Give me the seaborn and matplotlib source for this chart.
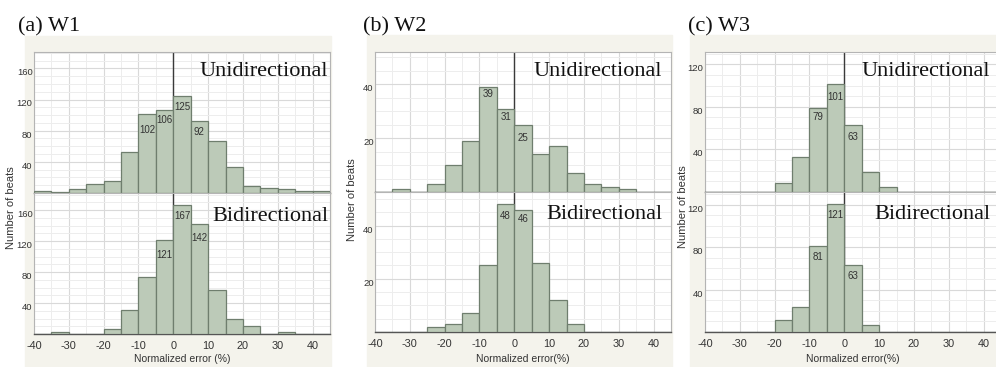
import numpy as np
import pandas as pd
import seaborn as sns
import matplotlib
matplotlib.use("Agg")
import matplotlib.pyplot as plt
from matplotlib.patches import Rectangle
from matplotlib.transforms import ScaledTranslation, blended_transform_factory
from matplotlib.ticker import MultipleLocator

# ---------------- data ----------------
bin_edges = list(range(-40, 50, 5))          # -40 ... 45
bin_centers = [e + 2.5 for e in bin_edges[:-1]]

w1_uni = [2, 1, 5, 12, 15, 52, 102, 106, 125, 92, 67, 34, 9, 6, 5, 3, 2]
w1_bi = [0, 2, 0, 0, 6, 31, 73, 121, 167, 142, 57, 20, 10, 0, 2, 0, 0]
w2_uni = [0, 1, 0, 3, 10, 19, 39, 31, 25, 14, 17, 7, 3, 2, 1, 0, 0]
w2_bi = [0, 0, 0, 2, 3, 7, 25, 48, 46, 26, 12, 3, 0, 0, 0, 0, 0]
w3_uni = [0, 0, 0, 0, 8, 33, 79, 101, 63, 19, 5, 0, 0, 0, 0, 0, 0]
w3_bi = [0, 0, 0, 0, 11, 24, 81, 121, 63, 7, 0, 0, 0, 0, 0, 0, 0]

panel_titles = ["(a) W1", "(b) W2", "(c) W3"]
row_names = ["Unidirectional", "Bidirectional"]
x_labels = ["Normalized error (%)", "Normalized error(%)", "Normalized error(%)"]
y_label = "Number of beats"
x_ticks = [-40, -30, -20, -10, 0, 10, 20, 30, 40]
y_ticks = [[40, 80, 120, 160], [20, 40], [40, 80, 120]]
# indices of bars whose counts are written on them
labelled = [([6, 7, 8, 9], [7, 8, 9]), ([6, 7, 8], [7, 8]), ([6, 7, 8], [6, 7, 8])]

counts = [(w1_uni, w1_bi), (w2_uni, w2_bi), (w3_uni, w3_bi)]

# ---------------- style ----------------
sns.set_theme(style="white")
plt.rcParams["font.family"] = ["Liberation Sans", "DejaVu Sans"]
plt.rcParams["axes.unicode_minus"] = False

W, H = 996, 367
fig = plt.figure(figsize=(W / 100, H / 100), dpi=100)
fig.patch.set_facecolor("white")

BEIGE = "#f4f3ec"
FILL = "#bccab8"
EDGE = "#6f7e6e"
TXT = "#333333"

# layout in pixels
lefts = [34, 375, 705]
axw = 296
tops = [(52, 193, 334), (52, 192, 332), (52, 192, 332)]
ylims = [(181, 182), (52, 52.6), (131.5, 132)]
ygrid_minor = [10, 5, 10]
bg_boxes = [(25, 36, 306), (367, 35, 305), (690, 35, 306)]
title_x = [18, 363, 688]
ylabel_pos = [(11, 208), (352, 200), (683, 207)]
name_x = [(44.5, 44.5), (42.5, 42.5), (41.9, 41.9)]
name_y = [(0.83, 0.80), (0.83, 0.81), (0.83, 0.81)]
lab_off = [([-16, -10, -11, -11], [-15, -11, -14]),
           ([-7, -8, -13], [-12, -9]),
           ([-9, -13, -12], [-11, -11, -11])]


def add_axes_px(l, t, w, h):
    return fig.add_axes([l / W, 1 - (t + h) / H, w / W, h / H])


for l, t, w in bg_boxes:
    fig.patches.append(Rectangle((l / W, 0), w / W, (H - t) / H,
                                 transform=fig.transFigure, color=BEIGE, zorder=-10))

for p in range(3):
    top, mid, bot = tops[p]
    for r in range(2):
        if r == 0:
            ax = add_axes_px(lefts[p], top, axw, mid - top)
        else:
            ax = add_axes_px(lefts[p], mid, axw, bot - mid)
        ax.set_facecolor("white")
        vals = counts[p][r]
        df = pd.DataFrame({"err": bin_centers, "n": vals})
        sns.histplot(data=df, x="err", weights="n", bins=bin_edges, ax=ax,
                     color=FILL, edgecolor=EDGE, linewidth=0.9, alpha=1,
                     zorder=3)
        ax.set_xlim(-40, 45)
        ax.set_ylim(0, ylims[p][r])
        ax.axvline(0, color="#3a3a3a", lw=1.0, zorder=2)

        ax.xaxis.set_major_locator(MultipleLocator(10))
        ax.xaxis.set_minor_locator(MultipleLocator(5))
        ax.set_yticks(y_ticks[p])
        ax.yaxis.set_minor_locator(MultipleLocator(ygrid_minor[p]))
        ax.grid(True, which="major", color="#d9d9d9", lw=0.8, zorder=0)
        ax.grid(True, which="minor", color="#ededed", lw=0.7, zorder=0)
        ax.set_axisbelow(True)

        for s in ["top", "right", "left"]:
            ax.spines[s].set_color("#b4b4b4")
            ax.spines[s].set_linewidth(0.8)
        ax.spines["bottom"].set_color("#555555")
        ax.spines["bottom"].set_linewidth(1.0)

        ax.tick_params(axis="y", which="both", length=0, pad=1,
                       labelsize=6.8, labelcolor=TXT)
        for lab in ax.get_yticklabels():
            lab.set_transform(lab.get_transform() +
                              ScaledTranslation(0, -2.5 / 72, fig.dpi_scale_trans))
        if r == 0:
            ax.tick_params(axis="x", which="both", length=0, labelbottom=False)
        else:
            ax.set_xticks(x_ticks)
            ax.tick_params(axis="x", which="major", length=3, width=0.8,
                           color="#777777", pad=2, labelsize=7.8, labelcolor=TXT)
            ax.tick_params(axis="x", which="minor", length=2, width=0.6,
                           color="#aaaaaa")
        ax.set_xlabel("")
        ax.set_ylabel("")

        for k, idx in enumerate(labelled[p][r]):
            ax.annotate(str(vals[idx]), (bin_centers[idx], vals[idx]),
                        xytext=(0, lab_off[p][r][k] * 0.72), textcoords="offset points",
                        ha="center", va="center", fontsize=7, color=TXT, zorder=5)

        ax.text(name_x[p][r], name_y[p][r], row_names[r],
                transform=blended_transform_factory(ax.transData, ax.transAxes),
                ha="right", va="baseline", fontsize=16,
                family=["Liberation Serif", "DejaVu Serif"], color="#111111", zorder=6)

    cx = (lefts[p] + axw / 2) / W
    fig.text(cx, 1 - 359 / H, x_labels[p], ha="center", va="center",
             fontsize=7.5, color=TXT)
    fig.text(ylabel_pos[p][0] / W, 1 - ylabel_pos[p][1] / H, y_label,
             rotation=90, ha="center", va="center", fontsize=8, color=TXT)
    fig.text(title_x[p] / W, 1 - 31 / H, panel_titles[p], ha="left",
             va="baseline", fontsize=16, family=["Liberation Serif", "DejaVu Serif"],
             color="#111111")

fig.savefig("out.png", dpi=100, facecolor="white")
